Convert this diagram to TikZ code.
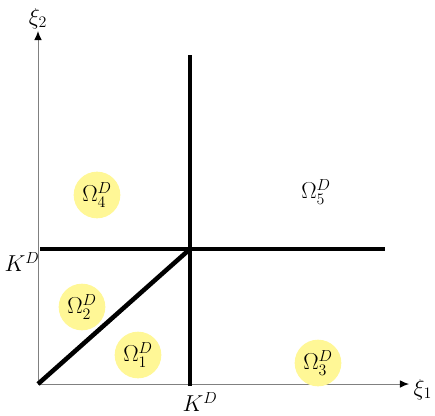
\documentclass[tikz,border=0pt]{standalone}
\usetikzlibrary{positioning, arrows.meta}
\definecolor{regionyellow}{RGB}{255,247,150}

\begin{document}
\begin{tikzpicture}[x=0.75pt, y=-0.75pt,
    every node/.style={font=\LARGE},
    axis/.style={draw=black!50, line width=0.7pt, -{Latex[length=2.4mm, width=2mm, black]}},
    bound/.style={line width=3.4pt},
    region/.style={circle, fill=regionyellow, minimum size=35pt, inner sep=0pt}]
  \useasboundingbox (0,0) rectangle (435,415);

  \coordinate (O) at (38,384);
  \coordinate (xend) at (409,384);
  \coordinate (yend) at (38,31);
  \coordinate (K) at (190,249);
  \coordinate (Kbot) at (190,386);
  \coordinate (Ktop) at (190,55);
  \coordinate (Kleft) at (40,249);
  \coordinate (Kright) at (385,249);

  % axes
  \draw[axis] (O) -- (xend);
  \draw[axis] (O) -- (yend);
  \node[right=0pt of xend, yshift=-4pt] (xi1) {$\xi_1$};
  \node[above=-2pt of yend] (xi2) {$\xi_2$};

  % boundaries
  \draw[bound] (Kbot) -- (Ktop);
  \draw[bound] (Kleft) -- (Kright);
  \draw[bound] (O) -- (K);

  \node at (22,262) (kdy) {$K^D$};
  \node at (200,402) (kdx) {$K^D$};

  % regions
  \node[region] at (97,195) (om4) {$\Omega_4^D$};
  \node[region] at (82,307) (om2) {$\Omega_2^D$};
  \node[region] at (138,355) (om1) {$\Omega_1^D$};
  \node[region] at (318,363) (om3) {$\Omega_3^D$};
  \node at (316,192) (om5) {$\Omega_5^D$};
\end{tikzpicture}
\end{document}
